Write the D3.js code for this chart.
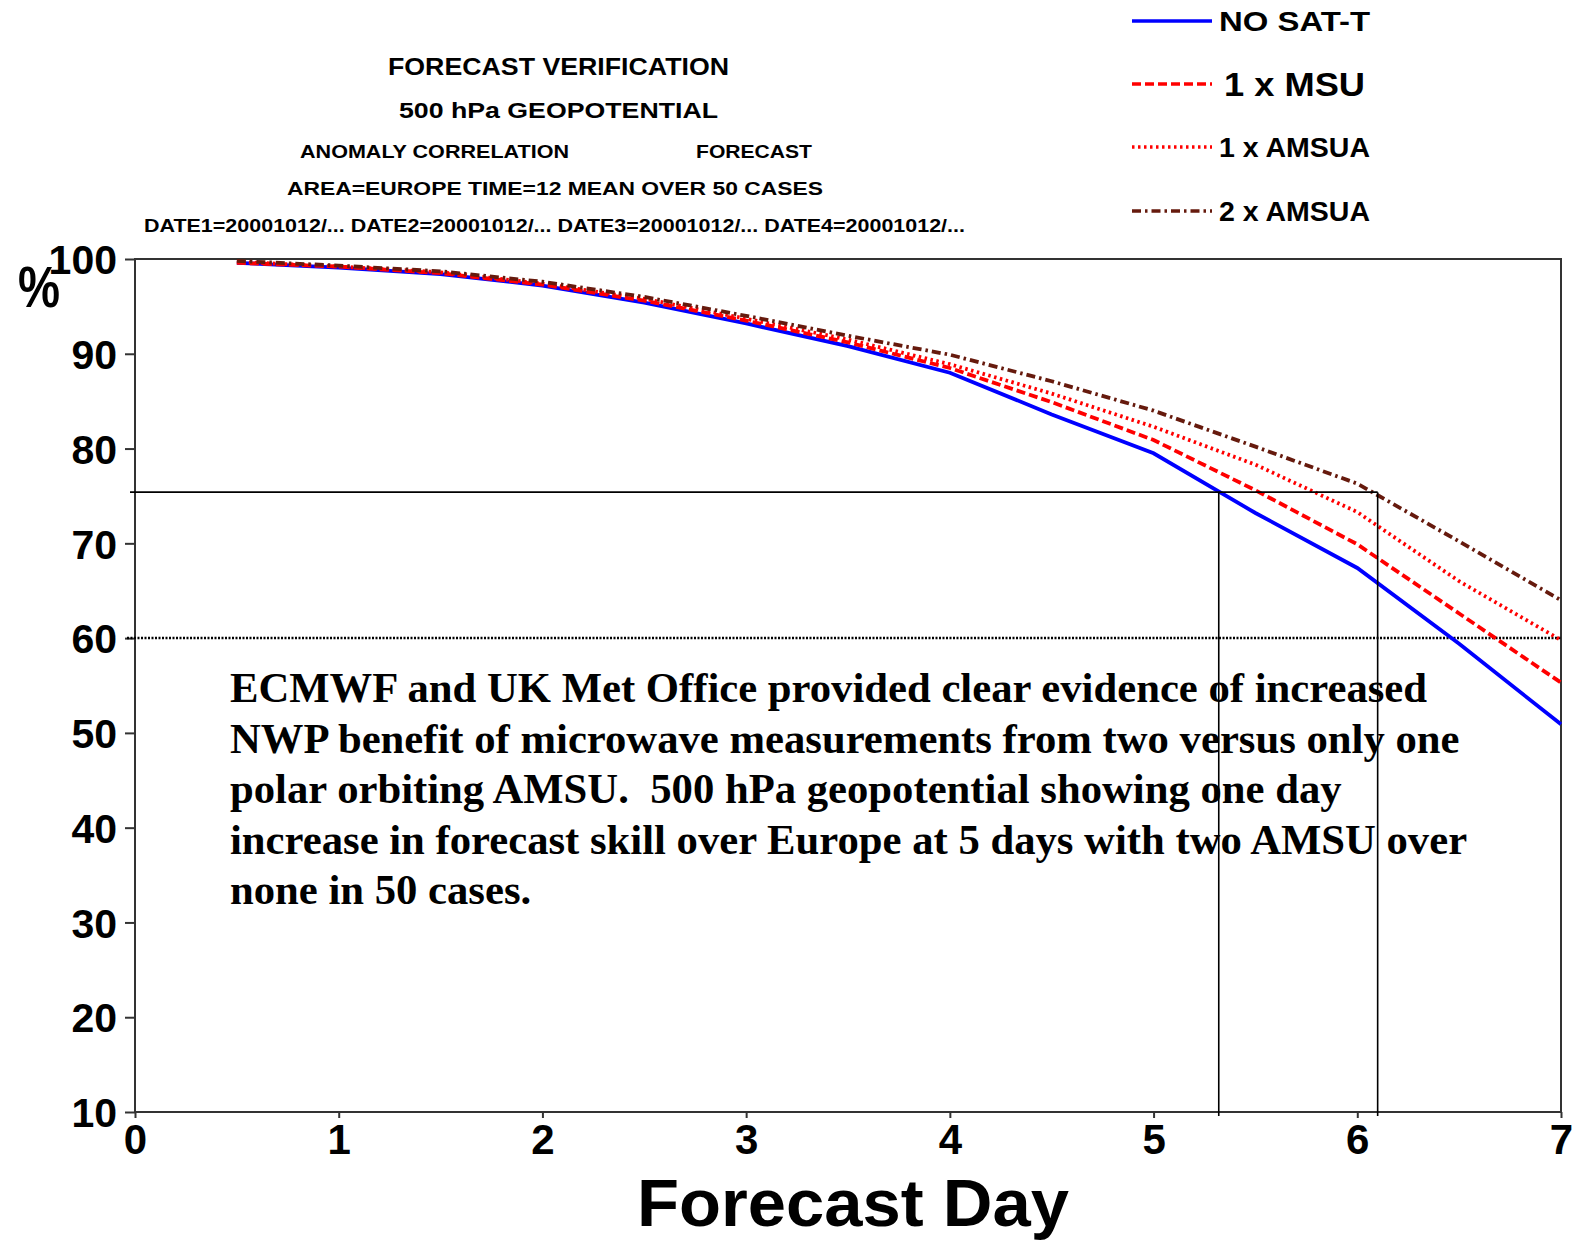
<!DOCTYPE html>
<html>
<head>
<meta charset="utf-8">
<script src="https://cdn.jsdelivr.net/npm/d3@7"></script>
<style>
  html, body { margin: 0; padding: 0; background: #fff; }
  svg { display: block; }
</style>
</head>
<body>
<svg id="chart" width="1579" height="1240"></svg>
<script>
// Forecast days (12-hourly verification steps)
const days = [0.5, 1, 1.5, 2, 2.5, 3, 3.5, 4, 4.5, 5, 5.5, 6, 6.5, 7];

// Anomaly correlation (%) of 500 hPa geopotential, Europe, mean over 50 cases
const noSatT   = [99.6, 99.1, 98.4, 97.2, 95.4, 93.2, 90.8, 88.0, 83.6, 79.5, 73.2, 67.4, 59.4, 50.9];
const oneMSU   = [99.6, 99.2, 98.5, 97.3, 95.6, 93.5, 91.2, 88.5, 84.9, 80.9, 75.6, 69.9, 62.6, 55.3];
const oneAMSUA = [99.7, 99.2, 98.6, 97.4, 95.8, 93.7, 91.5, 88.9, 85.8, 82.3, 78.3, 73.3, 66.0, 59.8];
const twoAMSUA = [99.8, 99.3, 98.7, 97.6, 96.0, 94.0, 91.9, 89.9, 87.1, 84.0, 80.2, 76.3, 70.2, 64.0];

const seriesNames = ["NO SAT-T", "1 x MSU", "1 x AMSUA", "2 x AMSUA"];
const seriesValues = [noSatT, oneMSU, oneAMSUA, twoAMSUA];

const xTicks = [0, 1, 2, 3, 4, 5, 6, 7];
const yTicks = [10, 20, 30, 40, 50, 60, 70, 80, 90, 100];

// Skill threshold and the days at which the NO SAT-T and 2 x AMSUA runs reach it
const skillLevel = 75.4;
const skillDays = [5.32, 6.10];
const referenceLevel = 60;

const titleLines = [
  "FORECAST VERIFICATION",
  "500 hPa GEOPOTENTIAL"
];
const subLines = [
  "ANOMALY CORRELATION",
  "FORECAST",
  "AREA=EUROPE   TIME=12   MEAN OVER  50 CASES",
  "DATE1=20001012/... DATE2=20001012/... DATE3=20001012/... DATE4=20001012/..."
];
const noteLines = [
  "ECMWF and UK Met Office provided clear evidence of increased",
  "NWP benefit of microwave measurements from two versus only one",
  "polar orbiting AMSU.  500 hPa geopotential showing one day",
  "increase in forecast skill over Europe at 5 days with two AMSU over",
  "none in 50 cases."
];

// ---- styling ----
const seriesColors = ["#0000ff", "#ff0000", "#ff0000", "#661a0d"];
const seriesDash = [null, "9,4", "2.5,3.5", "9,4,2.5,4"];
const sansBold = "'Liberation Sans', Arial, Helvetica, sans-serif";

const svg = d3.select("#chart");
const plot = { left: 135, right: 1561, top: 259, bottom: 1112 };

const x = d3.scaleLinear().domain([0, 7]).range([plot.left, plot.right]);
const y = d3.scaleLinear().domain([10, 100]).range([plot.bottom, plot.top]);

// ---- headings ----
const head = svg.append("g").attr("font-family", sansBold).attr("fill", "#000");
head.append("text").attr("x", 388).attr("y", 75).attr("font-size", 24).attr("font-weight", "bold")
  .attr("textLength", 341).attr("lengthAdjust", "spacingAndGlyphs").text(titleLines[0]);
head.append("text").attr("x", 399).attr("y", 118).attr("font-size", 22).attr("font-weight", "bold")
  .attr("textLength", 319).attr("lengthAdjust", "spacingAndGlyphs").text(titleLines[1]);

const subSpec = [
  { x: 300, y: 158, w: 269 },
  { x: 696, y: 158, w: 116 },
  { x: 287, y: 195, w: 536 },
  { x: 144, y: 232, w: 821 }
];
subLines.forEach((t, i) => {
  head.append("text").attr("x", subSpec[i].x).attr("y", subSpec[i].y)
    .attr("font-size", 19).attr("font-weight", "bold")
    .attr("textLength", subSpec[i].w).attr("lengthAdjust", "spacingAndGlyphs").text(t);
});

// ---- legend ----
const legend = svg.append("g");
const legendRowY = [21, 84, 147, 211];
const legendFont = [27, 34, 27, 27];
const legendWidth = [151, 141, 151, 151];
seriesNames.forEach((name, i) => {
  legend.append("line")
    .attr("x1", 1132).attr("x2", 1212)
    .attr("y1", legendRowY[i]).attr("y2", legendRowY[i])
    .attr("stroke", seriesColors[i]).attr("stroke-width", 3.5)
    .attr("stroke-dasharray", seriesDash[i]);
  legend.append("text")
    .attr("x", i === 1 ? 1224 : 1219).attr("y", legendRowY[i])
    .attr("dy", "0.36em")
    .attr("font-family", sansBold).attr("font-weight", "bold")
    .attr("font-size", legendFont[i])
    .attr("textLength", legendWidth[i]).attr("lengthAdjust", "spacingAndGlyphs")
    .text(name);
});

// ---- frame and axes ----
const axisColor = "#333";
svg.append("rect")
  .attr("x", plot.left).attr("y", plot.top)
  .attr("width", plot.right - plot.left).attr("height", plot.bottom - plot.top)
  .attr("fill", "none").attr("stroke", axisColor).attr("stroke-width", 2);

const yAxis = svg.append("g")
  .attr("transform", `translate(${plot.left},0)`)
  .call(d3.axisLeft(y).tickValues(yTicks).tickSize(10).tickPadding(8).tickFormat(d3.format("d")));
yAxis.select(".domain").remove();
yAxis.selectAll(".tick line").attr("stroke", axisColor).attr("stroke-width", 2);
yAxis.selectAll(".tick text")
  .attr("font-family", sansBold).attr("font-weight", "bold").attr("font-size", 41)
  .attr("fill", "#000").attr("dy", "0.36em");

const xAxis = svg.append("g")
  .attr("transform", `translate(0,${plot.bottom})`)
  .call(d3.axisBottom(x).tickValues(xTicks).tickSize(6).tickPadding(6).tickFormat(d3.format("d")));
xAxis.select(".domain").remove();
xAxis.selectAll(".tick line").attr("stroke", axisColor).attr("stroke-width", 2);
xAxis.selectAll(".tick text")
  .attr("font-family", sansBold).attr("font-weight", "bold").attr("font-size", 42)
  .attr("fill", "#000").attr("dy", "0.72em");

svg.append("text")
  .attr("x", 39).attr("y", 307).attr("text-anchor", "middle")
  .attr("font-family", sansBold).attr("font-weight", "bold").attr("font-size", 58)
  .attr("textLength", 42).attr("lengthAdjust", "spacingAndGlyphs")
  .text("%");

svg.append("text")
  .attr("x", (plot.left + plot.right) / 2 + 5).attr("y", 1226).attr("text-anchor", "middle")
  .attr("font-family", sansBold).attr("font-weight", "bold").attr("font-size", 66)
  .attr("textLength", 432).attr("lengthAdjust", "spacingAndGlyphs")
  .text("Forecast Day");

// ---- 60 % reference line ----
svg.append("line")
  .attr("x1", plot.left - 8).attr("x2", plot.right)
  .attr("y1", y(referenceLevel)).attr("y2", y(referenceLevel))
  .attr("stroke", "#000").attr("stroke-width", 2.5).attr("stroke-dasharray", "2,1.5");

// ---- forecast skill curves ----
const line = d3.line().x(d => x(d[0])).y(d => y(d[1]));
const curves = svg.append("g");
seriesValues.forEach((vals, i) => {
  curves.append("path")
    .datum(days.map((d, k) => [d, vals[k]]))
    .attr("d", line)
    .attr("fill", "none")
    .attr("stroke", seriesColors[i])
    .attr("stroke-width", 3.8)
    .attr("stroke-dasharray", seriesDash[i]);
});

// ---- skill threshold guides ----
const guides = svg.append("g").attr("stroke", "#000").attr("stroke-width", 1.6);
guides.append("line")
  .attr("x1", plot.left - 5).attr("x2", x(skillDays[1]))
  .attr("y1", y(skillLevel)).attr("y2", y(skillLevel));
skillDays.forEach(d => {
  guides.append("line")
    .attr("x1", x(d)).attr("x2", x(d))
    .attr("y1", y(skillLevel)).attr("y2", plot.bottom + 4);
});

// ---- annotation ----
const note = svg.append("text")
  .attr("font-family", "'Liberation Serif', 'Times New Roman', Times, serif")
  .attr("font-weight", "bold").attr("font-size", 42.7).attr("fill", "#000");
noteLines.forEach((t, i) => {
  note.append("tspan").attr("x", 230).attr("y", 702 + i * 50.6)
    .attr("xml:space", "preserve").style("white-space", "pre").text(t);
});
</script>
</body>
</html>
